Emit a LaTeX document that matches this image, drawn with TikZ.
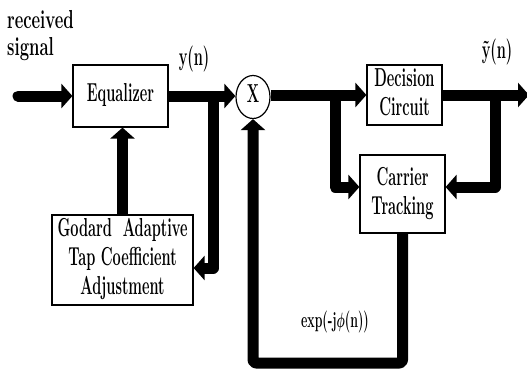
\documentclass[tikz,border=0pt]{standalone}
\usepackage{fontspec}
\usepackage{graphicx}
\usetikzlibrary{shapes,arrows.meta,positioning,calc}

\newcommand{\nar}[1]{\scalebox{.56}[1]{\begin{tabular}{@{}c@{}}#1\end{tabular}}}
\newcommand{\narl}[1]{\scalebox{.64}[1]{\begin{tabular}{@{}l@{}}#1\end{tabular}}}

\tikzset{
  blk/.style={draw, line width=1.2pt, inner sep=0pt,
    font=\fontsize{26}{29}\bfseries\selectfont},
  bus/.style={line width=11pt, line join=round,
    -{Triangle[length=11pt,width=24pt]}},
  lbl/.style={inner sep=0pt, font=\fontsize{26}{27}\bfseries\selectfont},
}

\begin{document}
\begin{tikzpicture}[x=1pt, y=1pt]
  \useasboundingbox (0,0) rectangle (527,-373);

  % blocks
  \node[blk, minimum width=95pt, minimum height=62pt] (eq) at (120.5,-96) {\nar{Equalizer}};
  \node[blk, ellipse, minimum width=34pt, minimum height=43pt] (mult) at (253,-97) {\nar{X}};
  \node[blk, minimum width=75pt, minimum height=60pt] (dec) at (404.5,-95) {\nar{Decision\\Circuit}};
  \node[blk, minimum width=85pt, minimum height=78pt] (car) at (402.5,-194) {\nar{Carrier\\Tracking}};
  \node[blk, minimum width=141pt, minimum height=90pt] (god) at (122.5,-260)
    {\nar{Godard~~Adaptive\\Tap Coefficient\\Adjustment}};

  % labels
  \node[lbl, anchor=north west] (rx) at (7,-9) {\narl{received\\signal}};
  \node[lbl] (yn) at (194,-60) {\nar{y(n)}};
  \node[lbl] (yt) at (497,-53) {\nar{\~{y}(n)}};
  \node[lbl, font=\fontsize{22}{24}\bfseries\mathversion{bold}\selectfont] (ex) at (335,-323) {\nar{exp(-j$\phi$(n))}};

  \coordinate (in) at (18,-96);
  \coordinate (out) at (527,-95);
  \coordinate (b1) at (213,-96);
  \coordinate (b2) at (335,-95);
  \coordinate (b3) at (495,-95);

  % forward path
  \draw[bus, line cap=round] (in) -- (eq.west);
  \draw[bus] (eq.east) -- (eq.east -| mult.west);
  \draw[bus] (mult.east |- dec.west) -- (dec.west);
  \draw[bus, shorten >=-2pt] (dec.east) -- (out);

  % feedback paths
  \draw[bus] (b1) -- (b1 |- 0,-268) -- (god.east |- 0,-268);
  \draw[bus] (god.north) -- (god.north |- eq.south);
  \draw[bus] (b2) -- (b2 |- 0,-187) -- (car.west |- 0,-187);
  \draw[bus] (b3) -- (b3 |- 0,-187) -- (car.east |- 0,-187);
  \draw[bus, rounded corners=3pt] (car.south) -- (car.south |- 0,-363) -- (mult.south |- 0,-363) -- (mult.south);
\end{tikzpicture}
\end{document}
